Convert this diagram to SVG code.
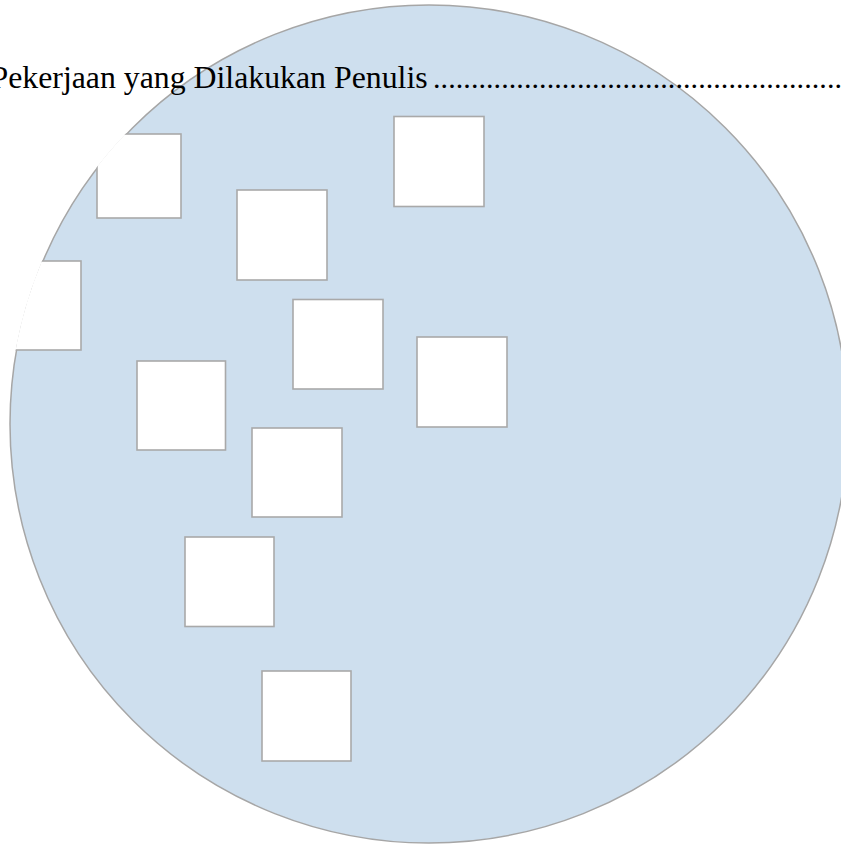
<svg xmlns="http://www.w3.org/2000/svg" width="841" height="845" viewBox="0 0 841 845">
  <style>
    .disc { fill: #cedfee; stroke: #a6a6a6; stroke-width: 1.5; }
    .hole { fill: #ffffff; stroke: #a9a9a9; stroke-width: 1.6; }
    .title { font-family: "Liberation Serif", "Times New Roman", serif; font-size: 31.8px; fill: #000000; }
  </style>
  <defs>
    <clipPath id="discClip">
      <circle cx="429" cy="424" r="420"/>
    </clipPath>
  </defs>
  <rect x="0" y="0" width="841" height="845" fill="#ffffff"/>
  <g id="disc">
    <circle class="disc" cx="429" cy="424" r="419"/>
  </g>
  <g clip-path="url(#discClip)">
    <g id="square-1"><rect class="hole" x="97" y="134" width="84" height="84"/></g>
    <g id="square-2"><rect class="hole" x="-9" y="261" width="90" height="89"/></g>
    <g id="square-3"><rect class="hole" x="394" y="116.5" width="90" height="90"/></g>
    <g id="square-4"><rect class="hole" x="237" y="190" width="90" height="90"/></g>
    <g id="square-5"><rect class="hole" x="293" y="299.5" width="90" height="89.5"/></g>
    <g id="square-6"><rect class="hole" x="417" y="337" width="90" height="90"/></g>
    <g id="square-7"><rect class="hole" x="137" y="361" width="88.5" height="89"/></g>
    <g id="square-8"><rect class="hole" x="252" y="428" width="90" height="89"/></g>
    <g id="square-9"><rect class="hole" x="185" y="537" width="89" height="89.5"/></g>
    <g id="square-10"><rect class="hole" x="262" y="671" width="89" height="90"/></g>
  </g>
  <g id="title">
    <text class="title" x="-9.5" y="88">Pekerjaan yang Dilakukan Penulis</text>
    <text class="title" x="433" y="88" textLength="409" lengthAdjust="spacing" style="font-size:30px">......................................................</text>
  </g>
</svg>
